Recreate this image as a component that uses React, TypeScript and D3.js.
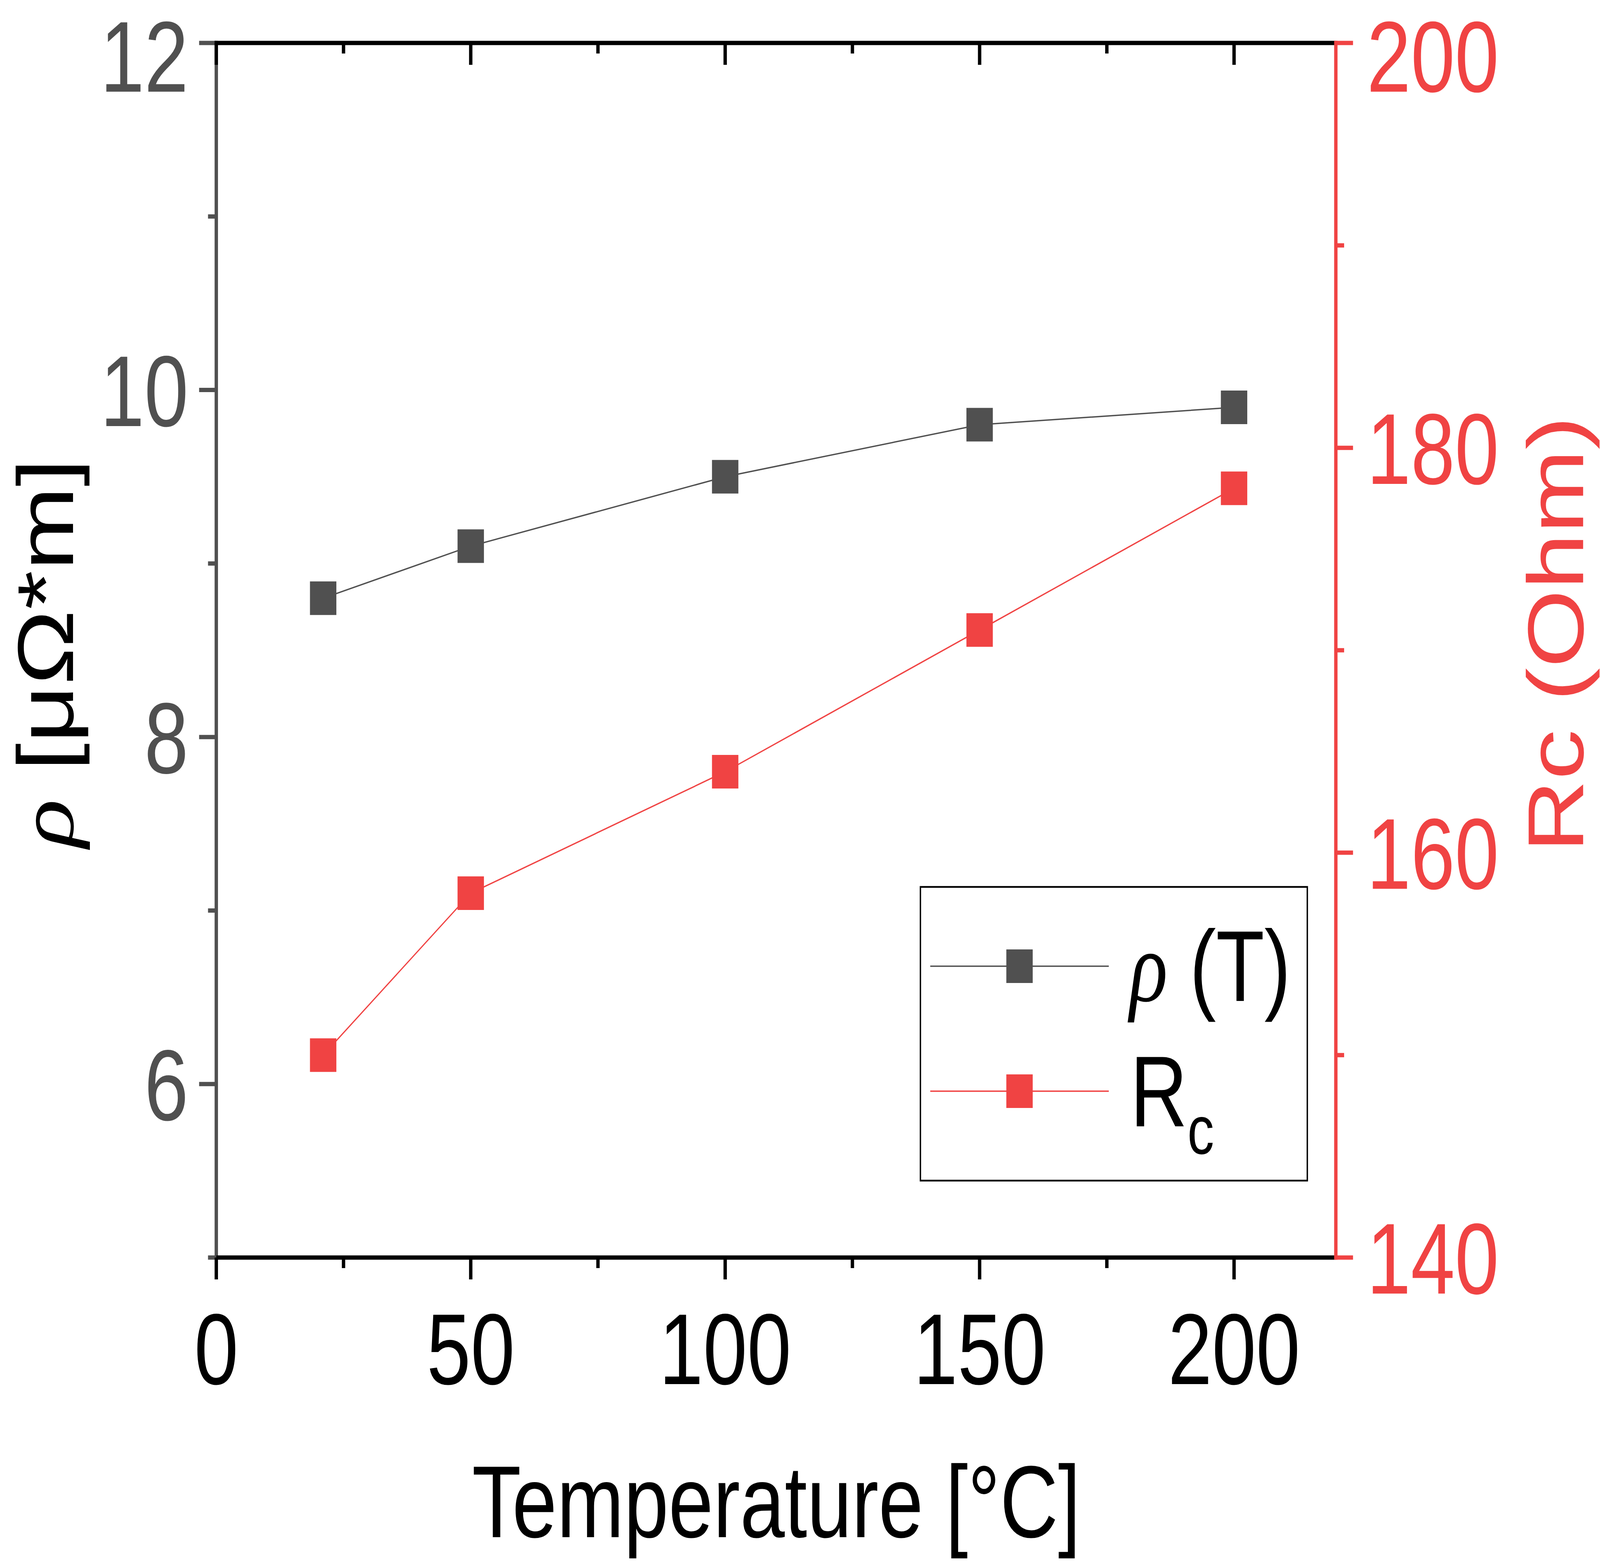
import React from "react";
import * as d3 from "d3";

// ---- data ----
const temps = [21, 50, 100, 150, 200];
const rhoValues = [8.8, 9.1, 9.5, 9.8, 9.9];
const rcValues = [150, 158, 164, 171, 178];

const xMajor = [0, 50, 100, 150, 200];
const xMinor = [25, 75, 125, 175];
const yLeftMajor = [6, 8, 10, 12];
const yLeftMinor = [5, 7, 9, 11];
const yRightMajor = [140, 160, 180, 200];
const yRightMinor = [150, 170, 190];

const xDomain = [0, 220];
const yLeftDomain = [5, 12];
const yRightDomain = [140, 200];

const seriesNames = ["ρ", "R"];

// ---- style ----
const W = 5215;
const H = 3997;
const L = 705;
const R = 4354;
const T = 110;
const B = 3220;
const GRAY = "#505050";
const RED = "#F04343";
const SANS = "'Liberation Sans', Arial, sans-serif";
const SERIF = "'Liberation Serif', 'Times New Roman', serif";
const FS = 258;
const FT = 262;
const AX = 11;
const MAJ = 56;
const MIN = 27;
const MK = 86;

// keep a label's text box inside the picture
const labelBaseline = (yPos: number) => Math.max(yPos + 0.358 * FS, 0.91 * FS);

export default function App() {
  const x = d3.scaleLinear().domain(xDomain).range([L, R]);
  const yL = d3.scaleLinear().domain(yLeftDomain).range([B, T]);
  const yR = d3.scaleLinear().domain(yRightDomain).range([B, T]);

  const rhoPts: [number, number][] = temps.map((t, i) => [x(t), yL(rhoValues[i])]);
  const rcPts: [number, number][] = temps.map((t, i) => [x(t), yR(rcValues[i])]);
  const line = d3.line();

  return (
    <svg
      viewBox={`0 0 ${W} ${H}`}
      preserveAspectRatio="none"
      style={{
        position: "fixed",
        left: 0,
        top: 0,
        width: "100vw",
        height: "100vh",
        background: "#fff",
        display: "block",
      }}
    >
      <rect x={0} y={0} width={W} height={H} fill="#fff" />

      {/* data lines */}
      <path d={line(rhoPts) || ""} fill="none" stroke={GRAY} strokeWidth={3.5} />
      <path d={line(rcPts) || ""} fill="none" stroke={RED} strokeWidth={3.5} />

      {/* markers */}
      {rhoPts.map((p, i) => (
        <rect key={"r" + i} x={p[0] - MK / 2} y={p[1] - MK / 2} width={MK} height={MK} fill={GRAY} />
      ))}
      {rcPts.map((p, i) => (
        <rect key={"c" + i} x={p[0] - MK / 2} y={p[1] - MK / 2} width={MK} height={MK} fill={RED} />
      ))}

      {/* left axis (gray) */}
      <g stroke={GRAY} strokeWidth={AX}>
        <line x1={L} x2={L} y1={T - AX / 2} y2={B + AX / 2} />
        {yLeftMajor.map((v) => (
          <line key={"lM" + v} x1={L - MAJ} x2={L} y1={yL(v)} y2={yL(v)} />
        ))}
        {yLeftMinor.map((v) => (
          <line key={"lm" + v} x1={L - MIN} x2={L} y1={yL(v)} y2={yL(v)} />
        ))}
      </g>
      {yLeftMajor.map((v) => (
        <text
          key={"lt" + v}
          x={614}
          y={labelBaseline(yL(v))}
          fontFamily={SANS}
          fontSize={FS}
          fill={GRAY}
          textAnchor="end"
        >
          {v}
        </text>
      ))}

      {/* top axis (black, inward ticks) */}
      <g stroke="#000" strokeWidth={AX}>
        <line x1={L - AX / 2} x2={R} y1={T} y2={T} />
        {xMajor.map((v) => (
          <line key={"tM" + v} x1={x(v)} x2={x(v)} y1={T} y2={T + MAJ} />
        ))}
        {xMinor.map((v) => (
          <line key={"tm" + v} x1={x(v)} x2={x(v)} y1={T} y2={T + MIN} />
        ))}
      </g>

      {/* bottom axis (black, outward ticks) */}
      <g stroke="#000" strokeWidth={AX}>
        <line x1={L} x2={R} y1={B} y2={B} />
        {xMajor.map((v) => (
          <line key={"bM" + v} x1={x(v)} x2={x(v)} y1={B} y2={B + MAJ} />
        ))}
        {xMinor.map((v) => (
          <line key={"bm" + v} x1={x(v)} x2={x(v)} y1={B} y2={B + MIN} />
        ))}
      </g>
      {xMajor.map((v) => (
        <text
          key={"bt" + v}
          x={x(v)}
          y={3544}
          fontFamily={SANS}
          fontSize={FS}
          fill="#000"
          textAnchor="middle"
        >
          {v}
        </text>
      ))}

      {/* right axis (red) */}
      <g stroke={RED} strokeWidth={AX}>
        <line x1={R} x2={R} y1={T - AX / 2} y2={B + AX / 2} />
        {yRightMajor.map((v) => (
          <line key={"rM" + v} x1={R} x2={R + MAJ} y1={yR(v)} y2={yR(v)} />
        ))}
        {yRightMinor.map((v) => (
          <line key={"rm" + v} x1={R} x2={R + MIN} y1={yR(v)} y2={yR(v)} />
        ))}
      </g>
      {yRightMajor.map((v) => (
        <text
          key={"rt" + v}
          x={4455}
          y={labelBaseline(yR(v))}
          fontFamily={SANS}
          fontSize={FS}
          fill={RED}
          textAnchor="start"
        >
          {v}
        </text>
      ))}

      {/* axis titles */}
      <text x={2530} y={3936} fontFamily={SANS} fontSize={FT} fill="#000" textAnchor="middle">
        Temperature [°C]
      </text>
      <text
        transform="translate(238,1672) rotate(-90)"
        fontFamily={SANS}
        fontSize={FS}
        fill="#000"
        textAnchor="middle"
      >
        <tspan fontFamily={SERIF} fontStyle="italic">ρ</tspan>
        <tspan> [μΩ*m]</tspan>
      </text>
      <text
        transform="translate(5160,1624) rotate(-90)"
        fontFamily={SANS}
        fontSize={FS}
        fill={RED}
        textAnchor="middle"
      >
        Rc (Ohm)
      </text>

      {/* legend */}
      <rect x={3000} y={2271} width={1261} height={752} fill="#fff" stroke="#000" strokeWidth={4.5} />
      <line x1={3032} x2={3614} y1={2474} y2={2474} stroke={GRAY} strokeWidth={3.5} />
      <rect x={3323 - MK / 2} y={2474 - MK / 2} width={MK} height={MK} fill={GRAY} />
      <text x={3682} y={2563} fontFamily={SANS} fontSize={FS} fill="#000">
        <tspan fontFamily={SERIF} fontStyle="italic">{seriesNames[0]}</tspan>
        <tspan> (T)</tspan>
      </text>
      <line x1={3032} x2={3614} y1={2794} y2={2794} stroke={RED} strokeWidth={3.5} />
      <rect x={3323 - MK / 2} y={2794 - MK / 2} width={MK} height={MK} fill={RED} />
      <text x={3684} y={2884} fontFamily={SANS} fontSize={FS} fill="#000">
        <tspan>{seriesNames[1]}</tspan>
        <tspan fontSize={174} dy={70}>c</tspan>
      </text>
    </svg>
  );
}
